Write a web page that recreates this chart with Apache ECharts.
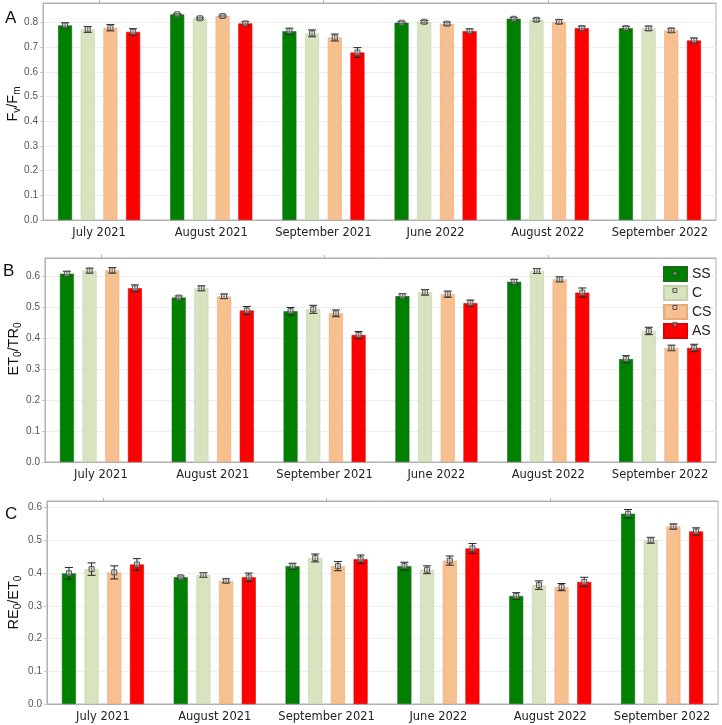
<!DOCTYPE html>
<html>
<head>
<meta charset="utf-8">
<title>chlorophyll fluorescence</title>
<style type="text/css">
html, body {
	margin: 0;
	padding: 0;
	background: #fff;
}
#main {
	width: 722px;
	height: 725px;
}
</style>
</head>
<body>
<div id="main"></div>
<script src="https://cdn.jsdelivr.net/npm/echarts@6/dist/echarts.min.js"></script>
<script type="text/javascript">
var months = ['July 2021', 'August 2021', 'September 2021', 'June 2022', 'August 2022', 'September 2022'];
var groups = ['SS', 'C', 'CS', 'AS'];
var colors = ['#008000', '#d8e4bf', '#f8bf8f', '#ff0000'];
var edges = ['#1a6b1a', '#c3d1a8', '#e8ab7a', '#e00000'];

// rows: SS, C, CS, AS
var fvfmMean = [
	[0.789, 0.834, 0.766, 0.800, 0.816, 0.778],
	[0.773, 0.818, 0.757, 0.804, 0.812, 0.777],
	[0.780, 0.827, 0.740, 0.796, 0.804, 0.769],
	[0.763, 0.797, 0.679, 0.766, 0.778, 0.728]
];
var fvfmErr = [
	[0.011, 0.003, 0.012, 0.004, 0.005, 0.007],
	[0.012, 0.004, 0.014, 0.005, 0.006, 0.009],
	[0.013, 0.004, 0.014, 0.006, 0.008, 0.008],
	[0.013, 0.007, 0.020, 0.009, 0.008, 0.010]
];
var et0Mean = [
	[0.609, 0.532, 0.488, 0.537, 0.583, 0.333],
	[0.619, 0.562, 0.494, 0.549, 0.618, 0.424],
	[0.620, 0.536, 0.481, 0.543, 0.591, 0.369],
	[0.562, 0.490, 0.411, 0.514, 0.548, 0.369]
];
var et0Err = [
	[0.008, 0.005, 0.012, 0.007, 0.008, 0.011],
	[0.008, 0.008, 0.013, 0.009, 0.008, 0.012],
	[0.009, 0.007, 0.011, 0.010, 0.008, 0.009],
	[0.011, 0.013, 0.011, 0.010, 0.015, 0.012]
];
var re0Mean = [
	[0.399, 0.387, 0.421, 0.421, 0.330, 0.581],
	[0.412, 0.394, 0.446, 0.410, 0.363, 0.500],
	[0.402, 0.376, 0.421, 0.438, 0.357, 0.542],
	[0.426, 0.387, 0.442, 0.475, 0.373, 0.527]
];
var re0Err = [
	[0.018, 0.004, 0.009, 0.012, 0.010, 0.013],
	[0.019, 0.007, 0.012, 0.012, 0.013, 0.009],
	[0.020, 0.006, 0.014, 0.014, 0.011, 0.008],
	[0.018, 0.013, 0.013, 0.015, 0.014, 0.011]
];
var yMax = [0.88, 0.66, 0.62];
var yNames = ['{a|F}{s|v}{a|/F}{s|m}', '{a|ET}{s|0}{a|/TR}{s|0}', '{a|RE}{s|0}{a|/ET}{s|0}'];
var letters = ['A', 'B', 'C'];

var panels = [
	{mean: fvfmMean, err: fvfmErr},
	{mean: et0Mean, err: et0Err},
	{mean: re0Mean, err: re0Err}
];
var grids = [
	{left: 43, top: 3, right: 6, height: 217},
	{left: 45, top: 258, right: 6, height: 204},
	{left: 47, top: 501, right: 4, height: 203}
];
var nameGaps = [21, 22, 24];
var nameShift = [15, 22, 0];

var BAR_W = 14;
var BAR_GAP = 0.62;

var xAxes = [], yAxes = [], series = [], graphics = [];

grids.forEach(function (g, p) {
	g.show = true;
	g.borderColor = '#b0b0b0';
	g.borderWidth = 1;
	g.backgroundColor = '#fff';
	g.containLabel = false;
	g.outerBoundsMode = 'none';

	xAxes.push({
		type: 'category', gridIndex: p, data: months, position: 'bottom',
		axisLine: {lineStyle: {color: '#b0b0b0'}},
		axisTick: {show: false},
		axisLabel: {color: '#222', fontSize: 11.5, fontFamily: 'DejaVu Sans', margin: 7, interval: 0, hideOverlap: false}
	});
	xAxes.push({
		type: 'category', gridIndex: p, data: months, position: 'top',
		axisLine: {lineStyle: {color: '#b0b0b0'}},
		axisTick: {show: true, alignWithLabel: true, length: 3, lineStyle: {color: '#b0b0b0'}},
		axisLabel: {show: false}
	});
	yAxes.push({
		type: 'value', gridIndex: p, min: 0, max: yMax[p], interval: 0.1,
		name: yNames[p], nameLocation: 'middle', nameGap: nameGaps[p], nameMoveOverlap: false,
		nameTextStyle: {
			padding: [0, 0, 0, nameShift[p]],
			rich: {
				a: {fontSize: 14.5, fontFamily: 'Liberation Sans', color: '#111', lineHeight: 18},
				s: {fontSize: 10, fontFamily: 'Liberation Sans', color: '#111', verticalAlign: 'top', padding: [8.5, 0, 0, 0], lineHeight: 10}
			}
		},
		axisLine: {show: true, lineStyle: {color: '#b0b0b0'}},
		axisTick: {show: true, length: 3, lineStyle: {color: '#c8c8c8'}},
		axisLabel: {
			color: '#555', fontSize: 10, fontFamily: 'Liberation Sans', margin: 5, showMaxLabel: false,
			formatter: function (v) { return v.toFixed(1); }
		},
		splitLine: {lineStyle: {color: '#eeeeee'}}
	});

	graphics.push({
		type: 'text', left: p === 1 ? 3 : 5, top: g.top + (p === 0 ? 7 : 5), z: 100,
		style: {text: letters[p], fontSize: 17, fontFamily: 'Liberation Sans', fill: '#111'}
	});

	groups.forEach(function (name, gi) {
		series.push({
			name: name, type: 'bar', xAxisIndex: p * 2, yAxisIndex: p,
			barWidth: BAR_W, barGap: (BAR_GAP * 100) + '%',
			itemStyle: {color: colors[gi], borderColor: edges[gi], borderWidth: 0.6},
			data: panels[p].mean[gi]
		});
		series.push({
			type: 'custom', xAxisIndex: p * 2, yAxisIndex: p, z: 5, silent: true,
			data: panels[p].mean[gi].map(function (m, i) {
				return [i, m, panels[p].err[gi][i]];
			}),
			renderItem: function (params, api) {
				var i = api.value(0), m = api.value(1), e = api.value(2);
				var off = (gi - 1.5) * BAR_W * (1 + BAR_GAP);
				var hi = api.coord([i, m + e]);
				var lo = api.coord([i, m - e]);
				var mid = api.coord([i, m]);
				var x = hi[0] + off;
				var cap = 4;
				var st = {stroke: '#222', lineWidth: 1};
				return {
					type: 'group',
					children: [
						{type: 'line', shape: {x1: x, y1: hi[1], x2: x, y2: lo[1]}, style: st},
						{type: 'line', shape: {x1: x - cap, y1: hi[1], x2: x + cap, y2: hi[1]}, style: st},
						{type: 'line', shape: {x1: x - cap, y1: lo[1], x2: x + cap, y2: lo[1]}, style: st},
						{type: 'rect', shape: {x: x - 2.5, y: mid[1] - 2.5, width: 5, height: 5},
							style: {fill: 'rgba(200,200,200,0.5)', stroke: '#555', lineWidth: 1}}
					]
				};
			}
		});
	});
});

// small marker squares inside the legend boxes
groups.forEach(function (name, gi) {
	graphics.push({
		type: 'rect', left: 672.5, top: 266 + gi * 17 + 5, z: 100,
		shape: {width: 4, height: 4},
		style: {fill: 'rgba(200,200,200,0.4)', stroke: '#333', lineWidth: 0.8}
	});
});

var option = {
	animation: false,
	backgroundColor: '#fff',
	grid: grids,
	xAxis: xAxes,
	yAxis: yAxes,
	legend: {
		data: groups, orient: 'vertical', left: 663, top: 266, padding: 0,
		itemWidth: 23, itemHeight: 14, itemGap: 3, icon: 'rect',
		textStyle: {fontSize: 14, lineHeight: 14, fontFamily: 'Liberation Sans', color: '#222'}
	},
	graphic: graphics,
	series: series
};

var myChart = echarts.init(document.getElementById('main'));
myChart.setOption(option);
</script>
</body>
</html>
